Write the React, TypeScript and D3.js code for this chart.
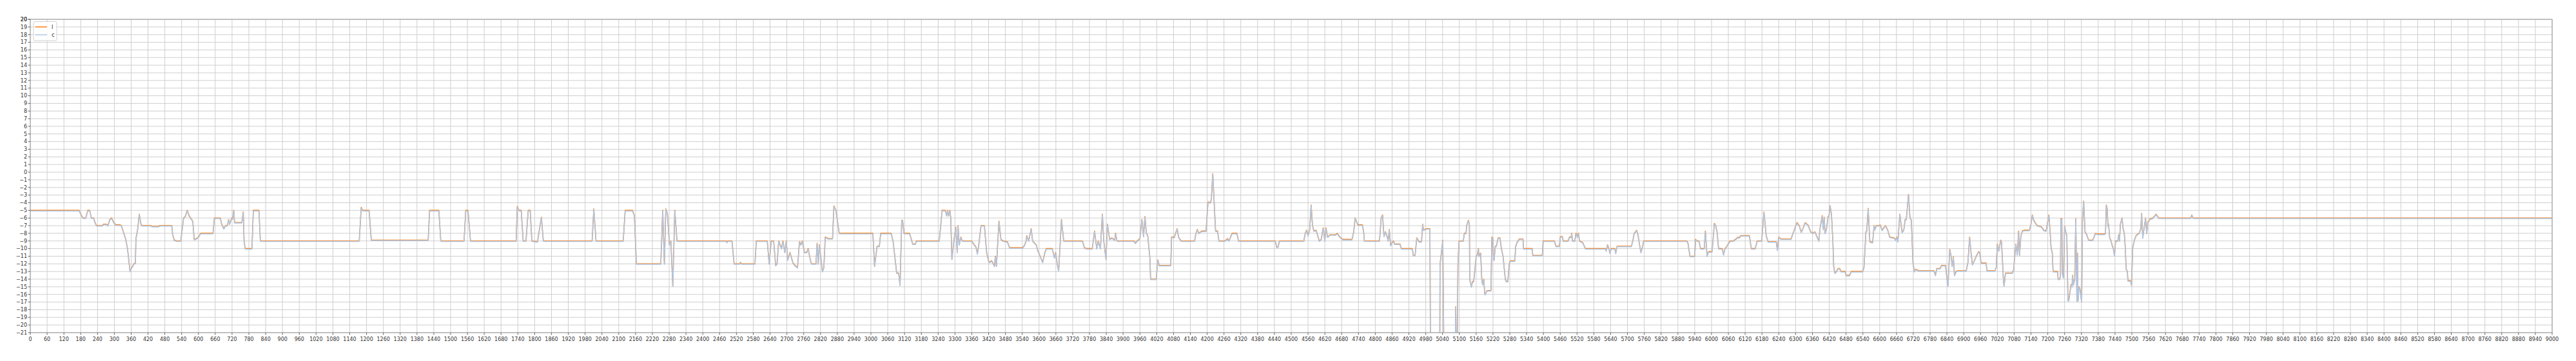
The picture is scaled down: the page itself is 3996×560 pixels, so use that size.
import React from 'react';
import { scaleLinear, line, range } from 'd3';

// readings of the "l" trace, split by stretch of the x axis: [x, value]
const stretchA: [number, number][] = [
  [0,-5],[174,-5],[180,-5.5],[188,-6],[198,-6],[205,-5],[212,-5],[218,-6],[226,-6],[230,-6.5],[236,-7],[256,-7],[262,-6.8],[272,-6.8],[277,-7],[284,-6.2],[290,-6],[298,-6.6],[305,-6.9],[321,-6.9],[325,-7],[332,-7.8],[340,-8.7],[347,-10],[356,-13],[362,-12.5],[370,-12],[375,-11.9],[377,-8.7],[383,-7.5],[389,-5.5],[395,-6.8],[399,-7],[431,-7],[434,-7.1],[457,-7.1],[462,-7],[505,-7],[508,-8.2],[514,-8.9],[524,-9],[537,-9],[547,-6],[553,-5.8],[560,-5],[568,-5.8],[578,-6.3],[580,-6.5],[585,-8.8],[593,-8.7],[600,-8.5],[608,-8],[652,-8],[657,-6],[678,-6],[683,-6.8],[691,-7.4],[696,-7],[703,-7],[708,-6.2],[711,-6.8],[719,-6],[722,-6.1],[726,-5],[729,-6.6],[755,-6.6],[760,-5.2],[763,-9],[767,-10],[791,-10],[796,-5],[816,-5],[821,-9],[1174,-9],[1181,-4.6],[1186,-5],[1209,-5],[1217,-8.9],[1420,-8.9],[1425,-5],[1458,-5],[1465,-9],[1502,-9],
];
const stretchB: [number, number][] = [
  [1548,-9],[1554,-5],[1562,-5],[1571,-9],[1734,-9],[1738,-4.5],[1744,-5],[1752,-5],[1759,-9],[1769,-9],[1777,-5],[1784,-5],[1790,-9],[1810,-9.1],[1824,-5.9],[1831,-9],[2005,-9],[2011,-4.8],[2019,-9],[2116,-9],[2123,-5],[2149,-5],[2156,-5.7],[2163,-12],[2250,-12],[2257,-5],[2263,-12],[2268,-4.8],[2274,-5.5],[2281,-9.5],[2286,-9],[2293,-14.9],[2300,-5],[2308,-9],[2483,-9],[2486,-9.2],[2488,-9],[2504,-9],[2512,-12],[2532,-12],[2534,-11.8],[2539,-12],[2586,-12],[2591,-9],[2630,-9],[2637,-12],[2644,-9],[2653,-9],[2660,-12.2],[2665,-12],[2671,-9],[2681,-10],[2686,-9],[2693,-10.5],[2698,-9],[2703,-11.5],[2711,-10.5],[2722,-11.9],[2729,-12.2],[2738,-12.5],[2745,-9.1],[2750,-9.5],[2755,-9],[2763,-10.5],[2771,-10.5],[2776,-10],[2784,-11.5],[2788,-12],[2804,-12],[2808,-9.3],[2812,-12],[2816,-9.5],[2827,-13],[2832,-12.5],[2837,-8.5],[2848,-8.7],[2863,-8.7],[2868,-4.4],[2875,-5],[2887,-8],[3007,-8],[3013,-12.3],[3022,-9.7],[3030,-9.7],[3035,-8],[3072,-8],[3079,-9],[3092,-13.2],[3099,-13.2],[3104,-14.8],[3110,-6.3],
];
const stretchC: [number, number][] = [
  [3113,-6.3],[3118,-8],[3138,-8],[3146,-9],[3149,-9.4],[3159,-9.4],[3162,-9],[3244,-9],[3254,-5],[3266,-5],[3270,-5.7],[3274,-5],[3277,-5.7],[3282,-5],[3285,-6],[3289,-11.4],[3296,-9],[3303,-7.2],[3308,-10.5],[3311,-7],[3315,-9.5],[3321,-8.5],[3326,-9],[3359,-9],[3375,-9.8],[3380,-10.7],[3385,-9.5],[3393,-7],[3405,-7],[3413,-10.5],[3421,-11.8],[3431,-11.6],[3441,-12.3],[3444,-11],[3448,-12.3],[3457,-6.4],[3464,-8.8],[3472,-9],[3487,-9.1],[3495,-9.9],[3542,-9.9],[3549,-9.5],[3554,-9],[3556,-8.3],[3563,-9],[3572,-7.4],[3577,-9],[3590,-9.5],[3595,-10.2],[3604,-11],[3613,-11.8],[3621,-10.5],[3626,-10],[3647,-10],[3655,-11.2],[3659,-10.5],[3665,-12],[3670,-12.9],[3680,-6.2],[3688,-9],[3755,-9],[3762,-9.9],[3770,-10],[3790,-10],[3798,-7.7],[3806,-10],[3811,-9],[3819,-10],[3826,-5.5],[3831,-9],[3839,-11.4],[3844,-6.8],[3852,-8.8],[3860,-8.6],[3870,-8.9],[3873,-8],[3878,-9],[3939,-9],[3944,-9.3],[3950,-9],[3960,-8.7],[3967,-6.2],[3973,-8.4],[3978,-5.8],[3983,-8],[3988,-8.3],[3996,-11.4],[3998,-14],[4018,-14],[4024,-11.5],[4029,-12.2],[4070,-12.2],[4073,-8.5],[4083,-8.5],[4093,-7.4],[4098,-8.5],[4107,-9],[4155,-9],[4160,-8],[4165,-7.5],[4170,-8],[4181,-7.7],[4196,-7.7],[4203,-3.9],[4212,-4],[4215,-3.5],[4220,-0.2],[4225,-4],[4230,-7.7],[4237,-7.7],[4242,-9],[4263,-9],[4273,-8.7],[4278,-9],[4289,-8],[4306,-8],[4312,-9],[4443,-9],[4448,-9.8],[4453,-9.8],[4458,-9],[4545,-9],[4550,-8],[4555,-7.6],[4560,-8.3],[4566,-7.5],[4571,-4.3],[4576,-7],[4581,-7.7],[4589,-7.6],[4600,-9],[4607,-8.8],[4614,-7.3],[4620,-9],[4624,-7.3],[4630,-8.5],[4638,-8.2],[4658,-8.2],[4664,-8],[4674,-8.5],[4684,-8.8],[4717,-8.8],[4723,-7.8],
];
const stretchD: [number, number][] = [
  [4728,-6],[4738,-6.9],[4754,-6.9],[4759,-8],[4761,-9],[4815,-9],[4821,-6],[4826,-5.6],[4831,-8.4],[4836,-7.8],[4843,-8.5],[4846,-9],[4850,-7.5],[4855,-9.6],[4859,-9.3],[4865,-9],[4869,-9.4],[4888,-9.4],[4893,-10],[4932,-10],[4936,-10.9],[4942,-10.9],[4948,-8.6],[4956,-9.1],[4965,-9.1],[4969,-6.8],[4972,-7.6],[4982,-7.4],[4995,-7.4],[4997,-25],[5030,-25],[5031,-12.1],[5041,-8.9],[5045,-25],[5085,-25],[5087,-17.6],[5090,-25],[5092,-25],[5095,-12.1],[5099,-9],[5114,-9],[5118,-8],[5124,-8],[5126,-7],[5130,-6.5],[5133,-6.3],[5136,-7],[5137,-14],[5143,-15],[5147,-14.3],[5151,-14.3],[5155,-13],[5160,-11],[5164,-10.8],[5168,-10],[5170,-11],[5176,-10.6],[5180,-14],[5183,-14.7],[5187,-14],[5191,-16],[5195,-15.8],[5199,-15.5],[5213,-15.5],[5216,-8.5],[5220,-8.7],[5222,-11.3],[5224,-11.5],[5228,-9.7],[5232,-9.7],[5236,-9],[5239,-8.6],[5245,-8.6],[5250,-10],[5256,-11],[5264,-14],[5268,-14.3],[5273,-14.3],[5278,-12],[5282,-11.6],[5298,-11.6],
];
const stretchE: [number, number][] = [
  [5301,-9.7],[5306,-9.2],[5314,-8.75],[5327,-8.75],[5329,-10],[5360,-10],[5362,-10.9],[5396,-10.9],[5399,-9],[5439,-9],[5445,-9.7],[5457,-9.7],[5460,-8.5],[5467,-8.4],[5471,-9],[5488,-9],[5493,-8.5],[5499,-8.5],[5501,-8],[5504,-9],[5512,-9],[5516,-8],[5522,-8.5],[5525,-8],[5529,-9],[5540,-9.2],[5550,-10],[5622,-10],[5624,-10.3],[5629,-9.5],[5634,-10],[5637,-10.6],[5642,-10],[5655,-10],[5658,-10.6],[5663,-9.7],[5714,-9.7],[5719,-9],[5724,-8],[5733,-7.6],[5738,-8.3],[5743,-9.5],[5748,-10.5],[5752,-10],[5758,-9],[5912,-9],[5916,-9.3],[5923,-11],[5940,-11],[5943,-8.8],[5948,-9],[5955,-9],[5961,-10],[5974,-10],[5978,-7.7],[5984,-11],[5988,-10.5],[5991,-10.4],[6002,-10.4],[6010,-6.7],[6015,-7],[6020,-7.85],[6025,-10],[6038,-10],[6043,-10.8],[6048,-10],[6053,-9.8],[6058,-9.5],[6066,-9],[6078,-9],[6084,-8.8],[6089,-8.7],[6094,-8.5],[6099,-8.6],[6104,-8.3],[6135,-8.3],[6142,-10],[6156,-10],[6163,-9],[6179,-9],[6187,-5.2],[6190,-6.3],[6195,-8.3],[6202,-9.1],[6231,-9.1],[6235,-10.2],[6240,-8.5],[6248,-8.75],[6284,-8.75],[6286,-8.5],[6305,-6.6],[6313,-7],[6320,-7.85],[6325,-7.5],[6334,-6.6],
];
const stretchF: [number, number][] = [
  [6344,-6.9],[6354,-7.8],[6362,-8],[6369,-7.8],[6377,-8.5],[6383,-9],[6387,-7.4],[6395,-5.7],[6399,-7.5],[6402,-5.9],[6405,-8],[6410,-7.5],[6416,-5.8],[6419,-5.8],[6423,-4.4],[6428,-5.5],[6433,-9],[6436,-12.3],[6440,-13.2],[6446,-13],[6452,-12.6],[6457,-12.6],[6462,-13],[6477,-13],[6480,-13.5],[6493,-13.5],[6498,-13],[6539,-13],[6544,-12.5],[6551,-7.8],[6554,-7.7],[6559,-4.75],[6565,-9.1],[6575,-9.2],[6580,-7],[6583,-7.5],[6588,-7],[6598,-7],[6602,-6.9],[6609,-7.6],[6616,-7.2],[6621,-7],[6629,-7.6],[6636,-8.5],[6652,-8.6],[6657,-8.9],[6662,-8.5],[6665,-9.1],[6672,-5.5],[6680,-7.85],[6686,-7.6],[6691,-6.2],[6695,-6.2],[6703,-2.9],[6708,-5.9],[6713,-6.3],[6719,-11.9],[6724,-13],[6729,-12.7],[6739,-12.9],[6794,-12.9],[6799,-13.5],[6804,-12.6],[6816,-12.6],[6821,-12.2],[6835,-12.2],[6839,-13.5],[6844,-14.9],[6850,-10.1],[6855,-11],[6859,-12.3],[6863,-11.1],[6867,-13.5],[6873,-13],[6878,-12.9],[6909,-12.9],[6915,-11.8],[6921,-8.5],[6926,-10.5],[6931,-12.1],[6939,-11.5],[6946,-10.9],[6953,-10.4],[6957,-10.5],[6962,-11.9],[6980,-11.9],[6983,-12.9],[7011,-12.9],[7016,-12.5],[7020,-9.4],[7025,-10.3],[7032,-8.9],[7035,-9.2],[7042,-14.3],[7044,-14.9],[7049,-13.2],[7073,-13.2],[7078,-12.8],[7086,-9.4],[7091,-10.8],[7096,-7.7],[7099,-10.9],[7104,-8.4],[7109,-7.7],[7116,-7.6],[7134,-7.6],[7139,-7],[7145,-5.6],[7150,-6.3],[7155,-6.6],[7162,-7],[7176,-7.1],[7186,-7.6],[7194,-7.7],[7199,-6.6],[7204,-5.6],[7208,-7.6],
];
const stretchG: [number, number][] = [
  [7212,-10],[7216,-10.5],[7219,-13],[7235,-13],[7237,-14],[7242,-14],[7245,-13.7],[7247,-6.1],[7250,-6.1],[7252,-13.3],[7256,-13.8],[7260,-7.1],[7264,-7.8],[7268,-8.3],[7272,-16.8],[7275,-16.8],[7279,-15.7],[7283,-14.7],[7287,-15],[7288,-13.5],[7292,-14.7],[7296,-14],[7300,-6.1],[7304,-16.9],[7306,-10.6],[7308,-16.8],[7311,-15],[7315,-15.3],[7319,-16.5],[7321,-16.9],[7324,-6.1],[7328,-3.8],[7333,-7.8],[7338,-8.1],[7346,-8.9],[7360,-8.9],[7365,-8.5],[7370,-8],[7377,-8.1],[7403,-8.1],[7406,-8],[7409,-4.3],[7412,-4.8],[7415,-7.1],[7417,-6.8],[7421,-8.6],[7425,-8.9],[7430,-9.6],[7434,-10],[7438,-10.9],[7442,-9],[7450,-9],[7453,-8.2],[7456,-9],[7459,-6.8],[7465,-6],[7469,-7.4],[7473,-8],[7476,-9.5],[7480,-12.7],[7484,-13],[7486,-14.2],[7495,-14.2],[7499,-14.8],[7503,-9.9],[7509,-8.9],[7515,-8.3],[7521,-8.1],[7526,-8],[7532,-7.4],[7535,-5.4],[7539,-8.6],[7543,-7.5],[7549,-6],[7553,-8],[7557,-6.5],[7561,-6.4],[7565,-6.1],[7574,-6.05],[7582,-5.7],[7587,-5.5],[7595,-6],[7710,-6],[7714,-5.6],[7718,-6],[9000,-6],
];

const lPoints = [...stretchA, ...stretchB, ...stretchC, ...stretchD, ...stretchE, ...stretchF, ...stretchG];
// "c" follows "l" all the way; it sits just under it in the picture
const cPoints = lPoints;

const seriesNames = ['l', 'c'];
const seriesColors = ['#ff7f0e', '#aec7e8'];

const xTicks = range(0, 9001, 60);
const yTicks = range(-21, 21, 1);

const W = 3996, H = 560;
const margin = { top: 30, right: 37, bottom: 44, left: 47 };

export default function App() {
  const x = scaleLinear().domain([0, 9000]).range([margin.left, W - margin.right]);
  const y = scaleLinear().domain([-21, 20]).range([H - margin.bottom, margin.top]);
  const path = line<[number, number]>().x(d => x(d[0])).y(d => y(d[1]));
  const font = 'DejaVu Sans, sans-serif';
  const x0 = margin.left, x1 = W - margin.right, y0 = margin.top, y1 = H - margin.bottom;

  return (
    <svg width={W} height={H} style={{ position: 'absolute', left: 0, top: 0, background: '#fff' }}>
      <defs>
        <clipPath id="plot">
          <rect x={x0} y={y0} width={x1 - x0} height={y1 - y0} />
        </clipPath>
      </defs>
      <rect x={0} y={0} width={W} height={H} fill="#fff" />
      {/* grid */}
      <g stroke="#cfcfcf" strokeWidth={1}>
        {xTicks.map(t => <line key={'gx' + t} x1={x(t)} x2={x(t)} y1={y0} y2={y1} />)}
        {yTicks.map(t => <line key={'gy' + t} x1={x0} x2={x1} y1={y(t)} y2={y(t)} />)}
      </g>
      {/* lines */}
      <g clipPath="url(#plot)" fill="none" strokeLinejoin="round">
        <path d={path(lPoints) || ''} stroke={seriesColors[0]} strokeWidth={1.6} />
        <path d={path(cPoints) || ''} stroke={seriesColors[1]} strokeWidth={1.5} transform="translate(0,0.8)" />
      </g>
      {/* frame */}
      <rect x={x0} y={y0} width={x1 - x0} height={y1 - y0} fill="none" stroke="#9a9a9a" strokeWidth={1} />
      {/* y axis */}
      <g fontFamily={font} fontSize={8} fill="#333">
        {yTicks.concat([20]).map(t => (
          <g key={'yt' + t}>
            <line x1={x0 - 3.5} x2={x0} y1={y(t)} y2={y(t)} stroke="#666" />
            <text x={x0 - 5} y={y(t)} dy="0.35em" textAnchor="end">{t < 0 ? '\u2212' + Math.abs(t) : t}</text>
          </g>
        ))}
      </g>
      {/* x axis */}
      <g fontFamily={font} fontSize={8} fill="#333">
        {xTicks.map(t => (
          <g key={'xt' + t}>
            <line x1={x(t)} x2={x(t)} y1={y1} y2={y1 + 3.5} stroke="#666" />
            <text x={x(t)} y={y1 + 13} textAnchor="middle">{t}</text>
          </g>
        ))}
      </g>
      {/* legend */}
      <g fontFamily={font} fontSize={8.5} fill="#333">
        <rect x={52} y={33.5} width={36} height={29.5} rx={2} fill="#fff" fillOpacity={0.85} stroke="#d0d0d0" />
        {seriesNames.map((n, i) => (
          <g key={n}>
            <line x1={54.5} x2={73} y1={41.7 + i * 12.3} y2={41.7 + i * 12.3} stroke={seriesColors[i]} strokeWidth={1.5} />
            <text x={80} y={41.7 + i * 12.3} dy="0.35em">{n}</text>
          </g>
        ))}
      </g>
    </svg>
  );
}
